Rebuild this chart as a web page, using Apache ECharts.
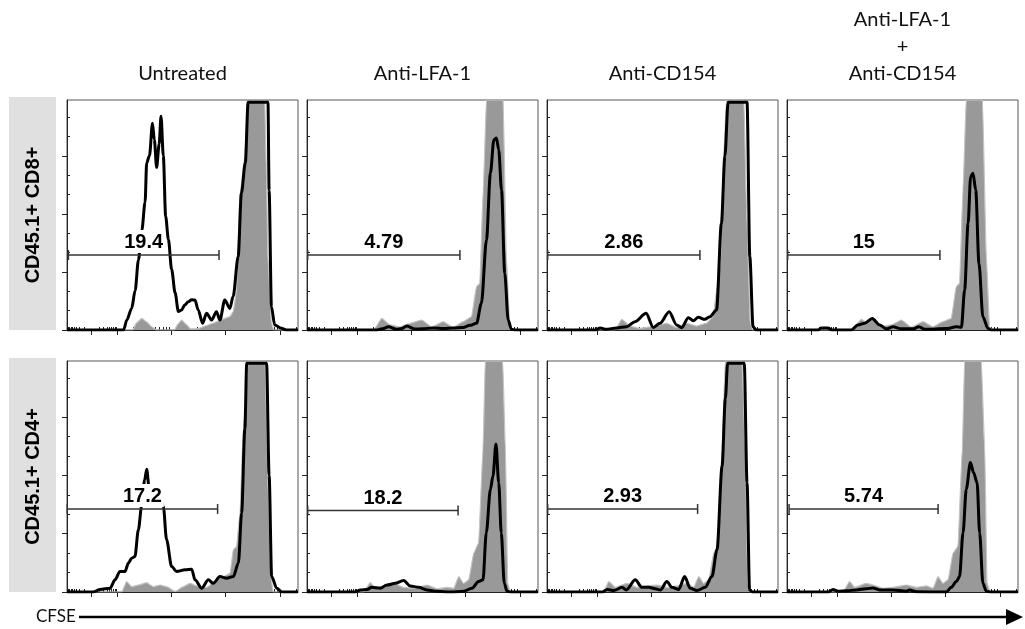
<!DOCTYPE html>
<html><head><meta charset="utf-8">
<script src="https://cdn.jsdelivr.net/npm/echarts@6/dist/echarts.min.js"></script>
<style>html,body{margin:0;padding:0;background:#fff}#c{width:1025px;height:629px}</style>
</head><body><div id="c"></div>
<script>
// ---------- text ----------
const COLUMN_TITLES = ['Untreated', 'Anti-LFA-1', 'Anti-CD154', 'Anti-LFA-1\n+\nAnti-CD154'];
const ROW_LABELS = ['CD45.1+ CD8+', 'CD45.1+ CD4+'];
const AXIS_LABEL = 'CFSE';
const GATE_LABELS = [['19.4', '4.79', '2.86', '15'], ['17.2', '18.2', '2.93', '5.74']];
// gate [x start, x end, y] in CFSE display units / % of max
const GATES_CD8 = [[0.6, 65.8, 32.3], [0.3, 66.2, 32.3], [0.3, 66.2, 32.3], [0.3, 66.2, 32.3]];
const GATES_CD4 = [[0.1, 65.2, 35.6], [0.3, 65.4, 34.9], [0.3, 65.2, 35.6], [0.9, 65.4, 35.6]];

// ---------- histograms: [CFSE display position, % of max] ----------
const CD8_UNTREATED_CTRL = [[0,0],[28.5,0],[30,3],[32.4,5],[34.5,3.5],[36.5,1.5],[38.8,0],[46.5,0],[48,2.5],[49.6,4.3],[51.5,2.5],[53.5,0.5],[56.8,0.5],[60,1.8],[63.3,2.9],[67,4.5],[70.5,5.7],[72,8],[73.4,17],[74.8,57],[77,75],[78.4,99],[85.6,99],[86.3,70],[87,31],[88.5,3],[89.5,0],[100,0]];
const CD8_UNTREATED = [[0,0],[24.5,0],[25.9,4.3],[28,9.3],[29.5,17],[30.9,30],[32.4,43],[33.8,55],[34.5,72],[35.7,75],[37,89],[37.8,82],[38.8,70],[39.9,80],[40.7,92],[41.7,75],[42.7,49],[43.9,39],[45.3,26],[46.8,16],[48.2,8],[49.6,8.6],[51,10.8],[52.5,12.2],[54,13],[55.4,12.9],[56.8,8.6],[58.7,2.9],[60.4,7.2],[62.6,4.3],[64.7,7.9],[66.2,4.3],[68.3,12.9],[70.5,9.3],[71.9,14.4],[74.1,31.6],[75.5,59],[77.2,72],[78.4,98],[87,98],[87.5,60],[88.5,10],[89.9,2.2],[92.8,0.7],[95,0],[100,0]];

const CD8_LFA1_CTRL = [[0,0],[28.8,0],[32.4,5],[36,2.2],[40.3,1.4],[44.6,2.9],[49.6,4.3],[54,1.4],[59,3.6],[63.3,1.1],[67.6,3.6],[71.2,5.7],[73.4,18.7],[74.8,20.1],[76.3,60.3],[77.7,99],[84.9,99],[86.3,31.6],[87.8,1.4],[89,0],[100,0]];
const CD8_LFA1 = [[0,0],[30.2,0],[32.5,0.5],[35.3,1.4],[38.8,0.3],[41,0.6],[43.2,1.7],[46.8,0.4],[50,0.5],[54.7,0.9],[59,0.6],[63.3,0.9],[67.6,1.1],[70.5,2],[73.4,2.9],[75.5,11.5],[77.7,38.8],[79.4,67.5],[80.9,81.9],[82,82.6],[83,77.6],[84.2,60.3],[85.6,24.4],[87.1,4.3],[88.5,0.3],[90,0],[100,0]];

const CD8_CD154_CTRL = [[0,0],[29.5,0],[32.4,4.6],[36,1.7],[40.3,0.7],[46,1.5],[51.8,2.9],[56.1,1.1],[60.4,2.9],[64.7,1.7],[69,2.9],[71.9,5.7],[73.7,18.7],[75.1,28.7],[76.5,74.7],[77.7,99],[85.2,99],[86.6,46],[88,2.9],[89,0],[100,0]];
const CD8_CD154 = [[0,0],[20.9,0],[23,0.9],[25.5,0.3],[30.2,0.9],[34.5,1.4],[38.1,3.6],[42.9,7.2],[46,1.1],[48.9,2.9],[52.9,7.9],[56.1,2.2],[58.3,1],[61.2,5.3],[63.3,4],[65.5,5.5],[68.3,4.6],[70.5,5.7],[73.4,8.6],[75.5,46],[77,74.7],[78.4,98],[86.6,98],[87.8,31.6],[89.2,1.4],[90.5,0],[100,0]];

const CD8_BOTH_CTRL = [[0,0],[27.8,0],[32.2,4.6],[34.6,2.9],[37.2,4.9],[40.1,1.4],[45.2,2.2],[49.5,4.3],[53.8,1.2],[58.9,3.6],[63.2,1.4],[67.5,3.6],[71.1,5],[73.3,18.7],[74.7,20.1],[76.2,60.3],[77.6,99],[84.6,99],[86.3,31.6],[87.7,1.4],[89,0],[100,0]];
const CD8_BOTH = [[0,0],[13.5,0],[14.9,0.9],[17.7,0.9],[19.5,0],[27.8,0],[30.7,2.2],[33.6,2.9],[36.9,4.9],[40.1,2.2],[43,0.5],[45.9,1.4],[49.5,0.5],[54.5,0.5],[57.1,1.4],[59.6,0.3],[69,0.6],[73.3,1.4],[75.5,1.2],[76.9,17.2],[78.4,46],[79.5,66],[80.5,67.5],[81.7,60.3],[83.1,28.7],[84.8,5.7],[87,0.6],[88.5,0],[100,0]];

const CD4_UNTREATED_CTRL = [[0,0],[23.7,0],[25.8,4.5],[28,2.3],[30.9,3],[34.5,4],[37.4,2.3],[40.3,3],[43.1,2.3],[46.8,0.3],[50.4,2.3],[53.2,3.7],[56.1,2.6],[60.5,2],[64.8,5.2],[67.7,6.6],[70.6,8],[72,18.1],[73.4,19.5],[74.9,33.9],[76.3,69.8],[78.5,99],[85.7,99],[87.2,41],[88.2,6.6],[89.3,0],[100,0]];
const CD4_UNTREATED = [[0,0],[11.4,0],[14.3,1.1],[18.6,1.6],[20.8,5.2],[22.9,8.8],[25.1,8.8],[26.6,12.4],[28,14.5],[29.4,15.2],[30.9,26.7],[32.3,36.8],[33.6,48],[34.5,52.6],[35.5,45],[37,38],[38.5,40],[40,42],[41.7,36.8],[43.1,22.4],[45.3,10.9],[47.5,8.8],[51.1,9.5],[54,9.8],[55.4,5.2],[58.3,1.6],[61.2,5.2],[63.3,3.7],[66.2,6.6],[69.1,5.9],[72,6.6],[74.2,12.4],[75.6,33.9],[77,70],[77.8,98],[86.4,98],[87.5,50],[88.6,6.6],[90.8,1.6],[93,0],[100,0]];

const CD4_LFA1_CTRL = [[0,0],[24.5,0],[27.4,4],[29.6,1.6],[33.9,3],[37.5,3.7],[41.8,2],[46.2,1.6],[51.9,3],[56.3,1.4],[60.6,2],[63.5,1.6],[65.7,6.6],[67.8,3.7],[70,5.2],[72.2,16.7],[74.3,21],[76.2,61.2],[77.2,99],[84.7,99],[85.9,61],[86.9,3.7],[88,0],[100,0]];
const CD4_LFA1 = [[0,0],[20.9,0],[23.1,0.9],[26,1.1],[28.1,2],[31.7,1.6],[34.6,3],[38.2,3.7],[41.8,4.9],[44.7,2.6],[48.3,2],[51.9,0.9],[56.3,0.3],[62,0],[67.8,0.3],[71.4,1.6],[74.3,4.5],[76.2,5.2],[77.6,25.3],[79.4,44],[80.5,49.7],[81.8,63.4],[83,46.8],[84.1,25.3],[85.4,3.7],[86.6,0.3],[88,0],[100,0]];

const CD4_CD154_CTRL = [[0,0],[24.5,0],[26.7,4.5],[29.6,2],[34.6,3.7],[39,2],[43.3,2.6],[47.6,3],[51.9,2],[56.3,2.6],[60.6,3.7],[63.5,2],[65.7,6.6],[67.8,3.7],[70,5.2],[72.2,16.7],[73.9,19.5],[75.8,61.2],[77.2,99],[84.4,99],[85.9,61],[86.9,3.7],[88,0],[100,0]];
const CD4_CD154 = [[0,0],[24,0],[26,1.1],[28.9,0.6],[32.5,2],[34.3,0.9],[38.2,5.2],[41.1,2],[44,2],[46.9,1.4],[49.1,0.9],[51.9,4.5],[54.1,2],[57,1.1],[59.6,6.6],[62,1.6],[64.9,0.6],[68.5,2],[71.4,6.6],[73.6,18.1],[75.8,54],[77.2,82.8],[78.2,98],[85.4,98],[86.6,46.8],[87.7,0.9],[89,0],[100,0]];

const CD4_BOTH_CTRL = [[0,0],[24.2,0],[27.1,4.5],[29.3,2],[34.3,3.7],[37.2,3],[41.6,1.6],[45.9,2],[51.7,3],[56,2],[60.3,2.6],[63.2,1.6],[65.4,6.6],[67.5,3.7],[69.7,5.2],[71.9,16.7],[74,19.5],[75.9,61.2],[76.9,99],[84.1,99],[85.6,61],[86.6,3.7],[88,0],[100,0]];
const CD4_BOTH = [[0,0],[18,0],[19.9,1.1],[22.1,0.3],[26,0.5],[30,0.9],[34.3,1.4],[37.2,1.7],[40.1,0.9],[45.9,0.9],[51.7,0.3],[53.1,0.9],[56,0.1],[69,0],[71.1,2],[73.3,4.5],[74.7,6.6],[76.2,25.3],[77.6,44],[79.4,55.5],[80.8,51.1],[82.3,46.8],[83.4,25.3],[84.8,3.7],[86.3,0.3],[88,0],[100,0]];

const PANELS = [
  [[CD8_UNTREATED_CTRL, CD8_UNTREATED], [CD8_LFA1_CTRL, CD8_LFA1], [CD8_CD154_CTRL, CD8_CD154], [CD8_BOTH_CTRL, CD8_BOTH]],
  [[CD4_UNTREATED_CTRL, CD4_UNTREATED], [CD4_LFA1_CTRL, CD4_LFA1], [CD4_CD154_CTRL, CD4_CD154], [CD4_BOTH_CTRL, CD4_BOTH]]
];
const GATES = [GATES_CD8, GATES_CD4];

// ---------- axis ticks (logicle-like CFSE scale) ----------
const X_MAX = 100, Y_MAX = 99;
const ZERO = 10.5, DEC0 = 21.8, DEC_STEP = 23.45;
const xMajor = [ZERO];
const xMinor = [];
for (let d = 0; d < 4; d++) xMajor.push(DEC0 + d * DEC_STEP);
for (let k = 2; k <= 9; k++) {
  xMinor.push(ZERO - ZERO * Math.log10(k));
  xMinor.push(ZERO + (DEC0 - ZERO) * Math.log10(k));
  for (let d = 0; d < 4; d++) {
    const v = DEC0 + d * DEC_STEP + DEC_STEP * Math.log10(k);
    if (v < X_MAX) xMinor.push(v);
  }
}
const yMajor = [0, 25, 50, 75];
const yMinor = [];
for (let m = 0; m < 4; m++) for (let j = 1; j < 3; j++) { const v = m * 25 + j * 25 / 3; if (v < Y_MAX) yMinor.push(v); }

// ---------- layout ----------
const COL_LEFT = [67, 307, 547, 787];
const ROW_TOP = [100, 361];
const PANEL_W = 231, PANEL_H = [230, 231];

const grid = [], xAxis = [], yAxis = [], series = [];
let gi = 0;
for (let r = 0; r < 2; r++) {
  for (let c = 0; c < 4; c++) {
    grid.push({left: COL_LEFT[c], top: ROW_TOP[r], width: PANEL_W, height: PANEL_H[r],
      show: true, borderColor: '#555', borderWidth: 1, backgroundColor: 'transparent'});
    const ax = 2 * gi;
    xAxis.push({gridIndex: gi, type: 'value', min: 0, max: X_MAX,
      axisLine: {show: true, lineStyle: {color: '#222', width: 1}},
      axisTick: {show: true, customValues: xMajor, length: 5, lineStyle: {color: '#222', width: 1}},
      axisLabel: {show: false}, splitLine: {show: false}});
    xAxis.push({gridIndex: gi, type: 'value', min: 0, max: X_MAX,
      axisLine: {show: false},
      axisTick: {show: true, customValues: xMinor, length: 3, lineStyle: {color: '#222', width: 1}},
      axisLabel: {show: false}, splitLine: {show: false}});
    yAxis.push({gridIndex: gi, type: 'value', min: 0, max: Y_MAX,
      axisLine: {show: true, lineStyle: {color: '#222', width: 1}},
      axisTick: {show: true, customValues: yMajor, length: 5, lineStyle: {color: '#222', width: 1}},
      axisLabel: {show: false}, splitLine: {show: false}});
    yAxis.push({gridIndex: gi, type: 'value', min: 0, max: Y_MAX,
      axisLine: {show: false},
      axisTick: {show: true, customValues: yMinor, length: 3, lineStyle: {color: '#222', width: 1}},
      axisLabel: {show: false}, splitLine: {show: false}});

    const [ctrl, sample] = PANELS[r][c];
    series.push({type: 'line', xAxisIndex: ax, yAxisIndex: ax, data: ctrl, showSymbol: false, silent: true,
      smooth: 0.15, smoothMonotone: 'x', z: 1,
      lineStyle: {color: '#c4c4c4', width: 1.2}, areaStyle: {color: '#999999', opacity: 1}});
    series.push({type: 'line', xAxisIndex: ax, yAxisIndex: ax, data: sample, showSymbol: false, silent: true,
      smooth: 0.3, smoothMonotone: 'x', z: 2,
      lineStyle: {color: '#000', width: 3, join: 'round'}});
    const label = GATE_LABELS[r][c];
    series.push({type: 'custom', xAxisIndex: ax, yAxisIndex: ax, z: 3, silent: true,
      data: [GATES[r][c]], encode: {x: [0, 1], y: 2},
      renderItem: (params, api) => {
        const p1 = api.coord([api.value(0), api.value(2)]);
        const p2 = api.coord([api.value(1), api.value(2)]);
        const mx = (p1[0] + p2[0]) / 2;
        const st = {stroke: '#333', lineWidth: 1.5};
        return {type: 'group', children: [
          {type: 'line', shape: {x1: p1[0], y1: p1[1], x2: p2[0], y2: p2[1]}, style: st},
          {type: 'line', shape: {x1: p1[0], y1: p1[1] - 5, x2: p1[0], y2: p1[1] + 5}, style: st},
          {type: 'line', shape: {x1: p2[0], y1: p2[1] - 5, x2: p2[0], y2: p2[1] + 5}, style: st},
          {type: 'text', x: mx, y: p1[1] - 2, z2: 10, style: {text: label, fill: '#000',
            font: 'bold 20px "Liberation Sans", Arial, sans-serif', align: 'center', verticalAlign: 'bottom',
            backgroundColor: '#fff', padding: [3, 2, 0, 2]}}
        ]};
      }});
    gi++;
  }
}

// ---------- decorations ----------
const graphic = [];
COLUMN_TITLES.forEach((t, c) => {
  const multi = t.indexOf('\n') >= 0;
  graphic.push({type: 'text', x: COL_LEFT[c] + PANEL_W / 2, y: multi ? 46.5 : 74, silent: true,
    style: {text: t, fill: '#111', font: '20px Lato, "Open Sans", sans-serif', align: 'center', verticalAlign: 'middle', lineHeight: 27}});
});
ROW_LABELS.forEach((t, r) => {
  graphic.push({type: 'rect', shape: {x: 9, y: ROW_TOP[r] - 3, width: 47, height: PANEL_H[r] + 3}, style: {fill: '#e0e0e0'}, silent: true});
  graphic.push({type: 'text', x: 33, y: ROW_TOP[r] + PANEL_H[r] / 2, rotation: Math.PI / 2, silent: true,
    style: {text: t, fill: '#000', font: 'bold 20px "Liberation Sans", Arial, sans-serif', align: 'center', verticalAlign: 'middle'}});
});
graphic.push({type: 'text', x: 36, y: 617, silent: true,
  style: {text: AXIS_LABEL, fill: '#111', font: '17px Lato, "Open Sans", sans-serif', align: 'left', verticalAlign: 'middle'}});
graphic.push({type: 'line', silent: true, shape: {x1: 79, y1: 617, x2: 1010, y2: 617}, style: {stroke: '#000', lineWidth: 2.5}});
graphic.push({type: 'polygon', silent: true, shape: {points: [[1006, 609], [1023, 617], [1006, 625]]}, style: {fill: '#000'}});

const chart = echarts.init(document.getElementById('c'), null, {renderer: 'canvas'});
chart.setOption({animation: false, backgroundColor: '#fff', grid, xAxis, yAxis, series, graphic});
</script></body></html>
